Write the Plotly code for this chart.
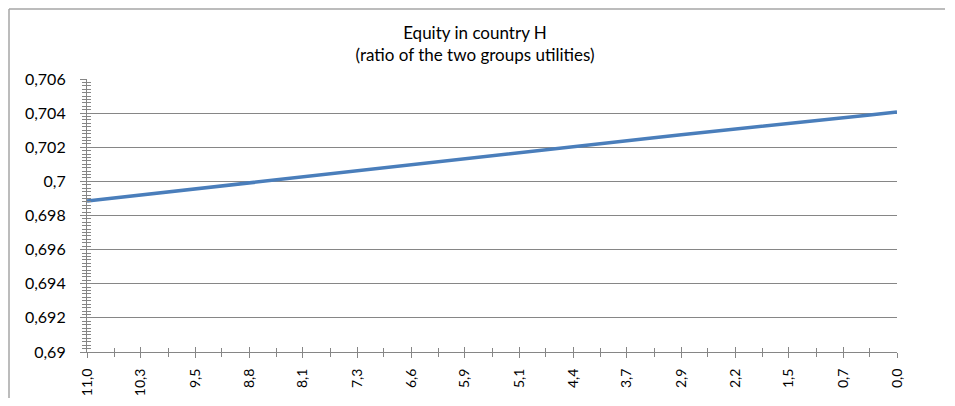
import plotly.graph_objects as go

# Data
x_vals = [11.0, 10.63, 10.27, 9.9, 9.53, 9.17, 8.8, 8.43, 8.07, 7.7, 7.33, 6.97,
          6.6, 6.23, 5.87, 5.5, 5.13, 4.77, 4.4, 4.03, 3.67, 3.3, 2.93, 2.57,
          2.2, 1.83, 1.47, 1.1, 0.73, 0.37, 0.0]
equity = [0.69885, 0.69903, 0.69921, 0.69939, 0.69957, 0.69974, 0.69992, 0.70010,
          0.70028, 0.70046, 0.70064, 0.70082, 0.70100, 0.70118, 0.70136, 0.70154,
          0.70171, 0.70188, 0.70205, 0.70222, 0.70239, 0.70256, 0.70273, 0.70290,
          0.70307, 0.70324, 0.70341, 0.70357, 0.70373, 0.70389, 0.70406]
x_tick_labels = ["11,0", "10,3", "9,5", "8,8", "8,1", "7,3", "6,6", "5,9",
                 "5,1", "4,4", "3,7", "2,9", "2,2", "1,5", "0,7", "0,0"]
y_tick_vals = [0.69, 0.692, 0.694, 0.696, 0.698, 0.7, 0.702, 0.704, 0.706]
y_tick_labels = ["0,69", "0,692", "0,694", "0,696", "0,698", "0,7", "0,702", "0,704", "0,706"]

title_text = "Equity in country H<br>(ratio of the two groups utilities)"

AX = "#868686"
FONT = "Lato, 'Open Sans', sans-serif"

x_major = x_vals[::2]
x_minor = x_vals[1::2]
y_minor = [round(0.69 + 0.0002 * i, 4) for i in range(81) if i % 10 != 0]

W, H = 937, 390
ML, MT, PW, PH = 79, 71, 810, 273
MR = W - ML - PW
MB = H - MT - PH

fig = go.Figure()
fig.add_trace(go.Scatter(x=x_vals, y=equity, mode="lines",
                         line=dict(color="#4a7ebb", width=3.5),
                         showlegend=False, hoverinfo="x+y"))

common_x = dict(range=[11.0, 0.0], showgrid=False, zeroline=False,
                linecolor=AX, linewidth=1.2, automargin=False)
common_y = dict(range=[0.69, 0.706], zeroline=False,
                linecolor=AX, linewidth=1.2, automargin=False)

fig.update_layout(
    width=W, height=H,
    margin=dict(l=ML, r=MR, t=MT, b=MB, autoexpand=False),
    paper_bgcolor="white", plot_bgcolor="white",
    font=dict(family=FONT, size=15, color="#000000"),
    title=dict(text=title_text, x=467 / W, xref="container", xanchor="center",
               y=1 - 31 / H, yref="container", yanchor="middle",
               font=dict(family=FONT, size=17, color="#000000")),
    xaxis=dict(**common_x, showline=True,
               tickmode="array", tickvals=x_major, ticktext=x_tick_labels,
               tickangle=-90, ticks="outside", ticklen=5, tickcolor=AX, tickwidth=1.2,
               ticklabelstandoff=5, tickfont=dict(size=14),
               minor=dict(tickmode="array", tickvals=x_minor, ticks="outside",
                          ticklen=4, tickcolor=AX, tickwidth=1.2, showgrid=False)),
    xaxis2=dict(**common_x, overlaying="x", anchor="y", side="bottom",
                showline=False, showticklabels=False,
                tickmode="array", tickvals=x_major, ticks="inside", ticklen=5,
                tickcolor=AX, tickwidth=1.2,
                minor=dict(tickmode="array", tickvals=x_minor, ticks="inside",
                           ticklen=4, tickcolor=AX, tickwidth=1.2, showgrid=False)),
    yaxis=dict(**common_y, showline=True, showgrid=True, gridcolor=AX, gridwidth=1.2,
               tickmode="array", tickvals=y_tick_vals, ticktext=y_tick_labels,
               ticks="outside", ticklen=6, tickcolor=AX, tickwidth=1.2,
               ticklabelstandoff=11, tickfont=dict(size=16),
               minor=dict(tickmode="array", tickvals=y_minor, ticks="outside",
                          ticklen=4, tickcolor=AX, tickwidth=1, showgrid=False)),
    yaxis2=dict(**common_y, overlaying="y", anchor="x", side="left",
                showline=False, showgrid=False, showticklabels=False,
                tickmode="array", tickvals=y_tick_vals, ticks="",
                minor=dict(tickmode="array", tickvals=y_minor, ticks="inside",
                           ticklen=4, tickcolor=AX, tickwidth=1, showgrid=False)),
)

# Hidden helper trace to activate the overlay axes
fig.add_trace(go.Scatter(x=[x_vals[0]], y=[equity[0]], xaxis="x2", yaxis="y2",
                         mode="markers", marker=dict(opacity=0), showlegend=False,
                         hoverinfo="skip"))

# Chart-area border (top and left edges visible in reference)
x_left = (1 - ML) / PW
x_right = (W - ML) / PW
y_top = (MT + PH - 1) / PH
y_bot = (MT + PH - H) / PH
fig.add_shape(type="line", xref="paper", yref="paper", x0=x_left, x1=x_right,
              y0=y_top, y1=y_top, line=dict(color="#a6a6a6", width=1.5))
fig.add_shape(type="line", xref="paper", yref="paper", x0=x_left, x1=x_left,
              y0=y_top, y1=y_bot, line=dict(color="#a6a6a6", width=1.5))

fig.write_html("out.html")
